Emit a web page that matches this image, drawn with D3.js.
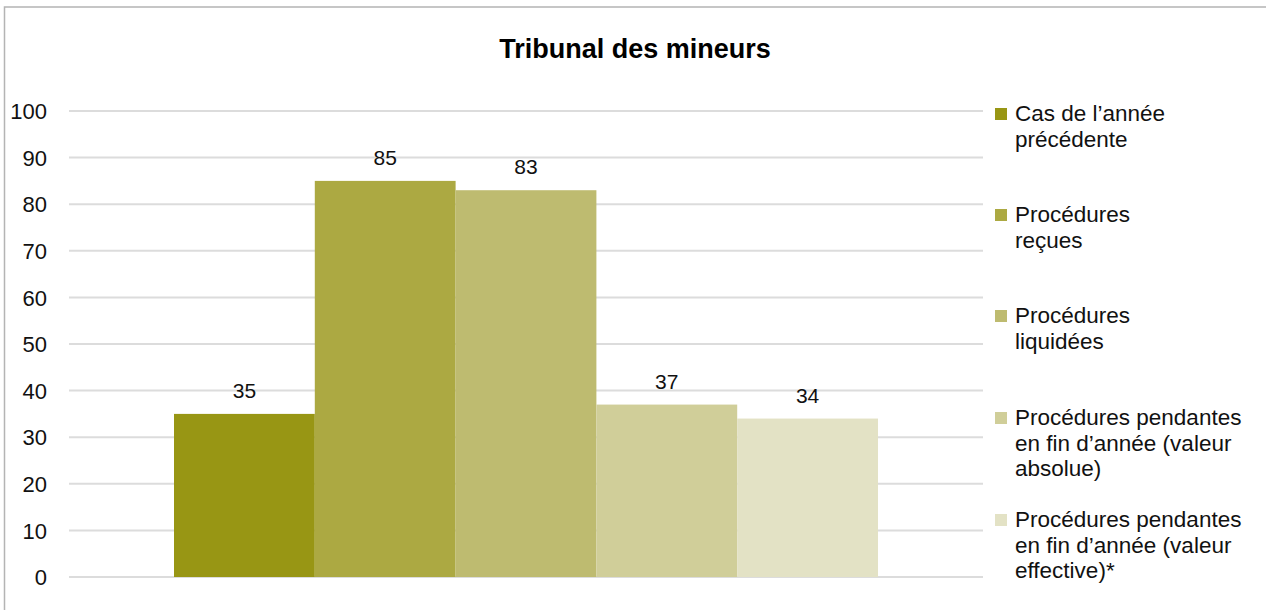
<!DOCTYPE html>
<html><head><meta charset="utf-8">
<script src="https://cdn.jsdelivr.net/npm/d3@7"></script>
<style>
html,body{margin:0;padding:0;background:#fff;}
svg{display:block;font-family:"Liberation Sans",Arial,sans-serif;}
</style></head>
<body>
<svg id="chart" width="1266" height="610"></svg>
<script>
const title = "Tribunal des mineurs";
const series = [
  "Cas de l’année précédente",
  "Procédures reçues",
  "Procédures liquidées",
  "Procédures pendantes en fin d’année (valeur absolue)",
  "Procédures pendantes en fin d’année (valeur effective)*"
];
const legendLines = [
  ["Cas de l’année", "précédente"],
  ["Procédures", "reçues"],
  ["Procédures", "liquidées"],
  ["Procédures pendantes", "en fin d’année (valeur", "absolue)"],
  ["Procédures pendantes", "en fin d’année (valeur", "effective)*"]
];
const values = [35, 85, 83, 37, 34];
const colors = ["#989614", "#aca942", "#bebb70", "#d0ce99", "#e3e2c5"];
const yTicks = [0, 10, 20, 30, 40, 50, 60, 70, 80, 90, 100];

const svg = d3.select("#chart");

// outer frame
svg.append("rect").attr("x", 4.5).attr("y", 7).attr("width", 1300).attr("height", 700)
  .attr("fill", "none").attr("stroke", "#b4b4b4").attr("stroke-width", 1.5);

const y = d3.scaleLinear().domain([0, 100]).range([577, 111]);
const x = d3.scaleBand().domain(series).range([174, 878]).padding(0);
const gridX0 = 69, gridX1 = 983;

// gridlines
svg.append("g").selectAll("line").data(yTicks).join("line")
  .attr("x1", gridX0).attr("x2", gridX1)
  .attr("y1", d => y(d)).attr("y2", d => y(d))
  .attr("stroke", "#dcdcdc").attr("stroke-width", 2);

// y axis labels
const yAxis = d3.axisLeft(y).tickValues(yTicks).tickSize(0).tickPadding(0);
const gy = svg.append("g").attr("transform", "translate(47,0)").call(yAxis);
gy.select(".domain").remove();
gy.selectAll("text").attr("font-size", 22).attr("fill", "#111")
  .attr("font-family", "Liberation Sans, Arial, sans-serif").attr("dy", "0.35em");

// bars
svg.append("g").selectAll("rect").data(values).join("rect")
  .attr("x", (d, i) => x(series[i]))
  .attr("width", x.bandwidth())
  .attr("y", d => y(d))
  .attr("height", d => y(0) - y(d))
  .attr("fill", (d, i) => colors[i]);

// value labels
svg.append("g").selectAll("text").data(values).join("text")
  .attr("x", (d, i) => x(series[i]) + x.bandwidth() / 2)
  .attr("y", d => y(d) - 16)
  .attr("text-anchor", "middle")
  .attr("font-size", 21).attr("fill", "#111")
  .text(d => d);

// title
svg.append("text").attr("x", 635).attr("y", 58).attr("text-anchor", "middle")
  .attr("font-size", 27).attr("font-weight", "bold").attr("fill", "#000")
  .text(title);

// legend
const lg = svg.append("g");
const itemY = [121, 222, 323, 425, 527];
legendLines.forEach((lines, i) => {
  lg.append("rect").attr("x", 995).attr("y", itemY[i] - 13).attr("width", 12).attr("height", 12)
    .attr("fill", colors[i]);
  const t = lg.append("text").attr("x", 1015).attr("y", itemY[i])
    .attr("font-size", 22.5).attr("fill", "#111");
  lines.forEach((ln, j) => {
    t.append("tspan").attr("x", 1015).attr("y", itemY[i] + j * 25.5).text(ln);
  });
});
</script>
</body></html>
